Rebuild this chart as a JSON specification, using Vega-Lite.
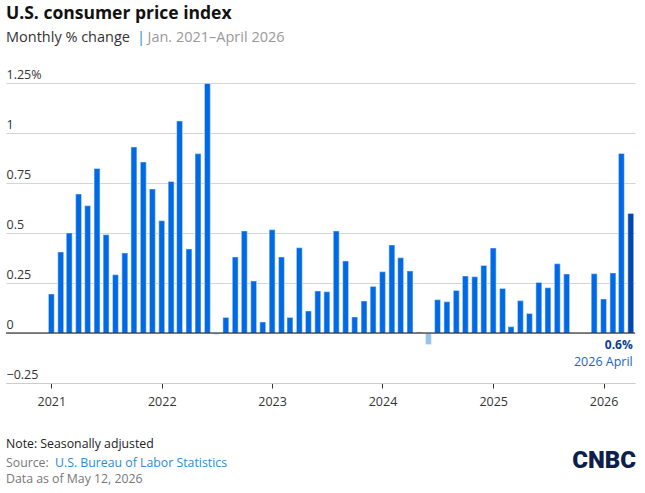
{
  "$schema": "https://vega.github.io/schema/vega-lite/v6.json",
  "width": 629,
  "height": 300,
  "autosize": {"type": "none"},
  "padding": {"left": 6, "top": 83, "right": 10, "bottom": 110},
  "background": "white",
  "config": {"view": {"stroke": null}, "font": "Open Sans", "text": {"font": "Open Sans"}},
  "datasets": {
    "cpi": [
      {"month": "2021-01-01", "value": 0.195},
      {"month": "2021-02-01", "value": 0.405},
      {"month": "2021-03-01", "value": 0.5},
      {"month": "2021-04-01", "value": 0.695},
      {"month": "2021-05-01", "value": 0.637},
      {"month": "2021-06-01", "value": 0.823},
      {"month": "2021-07-01", "value": 0.492},
      {"month": "2021-08-01", "value": 0.292},
      {"month": "2021-09-01", "value": 0.4},
      {"month": "2021-10-01", "value": 0.93},
      {"month": "2021-11-01", "value": 0.855},
      {"month": "2021-12-01", "value": 0.72},
      {"month": "2022-01-01", "value": 0.562},
      {"month": "2022-02-01", "value": 0.758},
      {"month": "2022-03-01", "value": 1.06},
      {"month": "2022-04-01", "value": 0.42},
      {"month": "2022-05-01", "value": 0.897},
      {"month": "2022-06-01", "value": 1.248},
      {"month": "2022-07-01", "value": -0.008},
      {"month": "2022-08-01", "value": 0.078},
      {"month": "2022-09-01", "value": 0.38},
      {"month": "2022-10-01", "value": 0.51},
      {"month": "2022-11-01", "value": 0.26},
      {"month": "2022-12-01", "value": 0.055},
      {"month": "2023-01-01", "value": 0.517},
      {"month": "2023-02-01", "value": 0.38},
      {"month": "2023-03-01", "value": 0.078},
      {"month": "2023-04-01", "value": 0.427},
      {"month": "2023-05-01", "value": 0.11},
      {"month": "2023-06-01", "value": 0.21},
      {"month": "2023-07-01", "value": 0.207},
      {"month": "2023-08-01", "value": 0.51},
      {"month": "2023-09-01", "value": 0.36},
      {"month": "2023-10-01", "value": 0.08},
      {"month": "2023-11-01", "value": 0.16},
      {"month": "2023-12-01", "value": 0.233},
      {"month": "2024-01-01", "value": 0.307},
      {"month": "2024-02-01", "value": 0.44},
      {"month": "2024-03-01", "value": 0.377},
      {"month": "2024-04-01", "value": 0.31},
      {"month": "2024-05-01", "value": 0.006},
      {"month": "2024-06-01", "value": -0.058},
      {"month": "2024-07-01", "value": 0.167},
      {"month": "2024-08-01", "value": 0.157},
      {"month": "2024-09-01", "value": 0.213},
      {"month": "2024-10-01", "value": 0.285},
      {"month": "2024-11-01", "value": 0.282},
      {"month": "2024-12-01", "value": 0.338},
      {"month": "2025-01-01", "value": 0.425},
      {"month": "2025-02-01", "value": 0.223},
      {"month": "2025-03-01", "value": 0.032},
      {"month": "2025-04-01", "value": 0.162},
      {"month": "2025-05-01", "value": 0.098},
      {"month": "2025-06-01", "value": 0.253},
      {"month": "2025-07-01", "value": 0.227},
      {"month": "2025-08-01", "value": 0.347},
      {"month": "2025-09-01", "value": 0.295},
      {"month": "2025-12-01", "value": 0.297},
      {"month": "2026-01-01", "value": 0.17},
      {"month": "2026-02-01", "value": 0.3},
      {"month": "2026-03-01", "value": 0.898},
      {"month": "2026-04-01", "value": 0.598}
    ]
  },
  "layer": [
    {
      "data": {"name": "cpi"},
      "mark": {"type": "bar", "width": 6, "stroke": "white", "strokeWidth": 1.2, "strokeOpacity": 0.45},
      "encoding": {
        "x": {
          "field": "month",
          "type": "temporal",
          "scale": {"type": "utc", "padding": 0, "domain": [{"year": 2020, "month": 8, "date": 4, "utc": true}, {"year": 2026, "month": 4, "date": 15, "utc": true}]},
          "axis": {
            "values": [
              {"year": 2021, "month": 1, "date": 1, "utc": true},
              {"year": 2022, "month": 1, "date": 1, "utc": true},
              {"year": 2023, "month": 1, "date": 1, "utc": true},
              {"year": 2024, "month": 1, "date": 1, "utc": true},
              {"year": 2025, "month": 1, "date": 1, "utc": true},
              {"year": 2026, "month": 1, "date": 1, "utc": true}
            ],
            "format": "%Y",
            "title": null,
            "grid": false,
            "domainColor": "#cccccc",
            "domainWidth": 1,
            "tickColor": "#333333",
            "tickSize": 5,
            "labelFontSize": 12.5,
            "labelColor": "#333333",
            "labelPadding": 7,
            "labelFlush": false
          }
        },
        "y": {
          "field": "value",
          "type": "quantitative",
          "scale": {"domain": [-0.25, 1.25], "nice": false, "zero": false},
          "axis": {
            "values": [-0.25, 0, 0.25, 0.5, 0.75, 1, 1.25],
            "labelExpr": "datum.value == 1.25 ? '1.25%' : format(datum.value, '~g')",
            "title": null,
            "domain": false,
            "ticks": false,
            "tickSize": 0,
            "labelAlign": "left",
            "labelBaseline": "alphabetic",
            "labelPadding": 0,
            "labelOffset": -4.5,
            "labelFontSize": 12.5,
            "labelColor": "#333333",
            "grid": true,
            "gridColor": "#d5d5d5",
            "labelFlush": false
          }
        },
        "color": {
          "condition": [
            {"test": "datum.value <= 0.01", "value": "#93c4ec"},
            {"test": "utcyear(datum.month) == 2026 && utcmonth(datum.month) == 3", "value": "#0047b4"}
          ],
          "value": "#0069e6"
        }
      }
    },
    {
      "data": {"values": [{}]},
      "mark": {"type": "rule", "color": "#111111", "strokeWidth": 1.2},
      "encoding": {"y": {"datum": 0}}
    },
    {
      "data": {"name": "cpi"},
      "transform": [
        {"filter": "utcyear(datum.month) == 2026 && utcmonth(datum.month) == 3"},
        {"calculate": "format(datum.value, '.1f') + '%'", "as": "pct"}
      ],
      "mark": {"type": "text", "align": "right", "baseline": "alphabetic", "dx": 2, "dy": 16, "fontSize": 12, "fontWeight": "bold", "color": "#0b3d91"},
      "encoding": {
        "x": {"field": "month", "type": "temporal"},
        "y": {"datum": 0},
        "text": {"field": "pct"}
      }
    },
    {
      "data": {"name": "cpi"},
      "transform": [
        {"filter": "utcyear(datum.month) == 2026 && utcmonth(datum.month) == 3"},
        {"calculate": "utcFormat(datum.month, '%Y %B')", "as": "lab"}
      ],
      "mark": {"type": "text", "align": "right", "baseline": "alphabetic", "dx": 2, "dy": 32.5, "fontSize": 12.5, "color": "#1f5fbf"},
      "encoding": {
        "x": {"field": "month", "type": "temporal"},
        "y": {"datum": 0},
        "text": {"field": "lab"}
      }
    },
    {
      "data": {"values": [{}]},
      "mark": {"type": "text", "align": "left", "baseline": "alphabetic", "fontSize": 17.5, "fontWeight": "bold", "color": "#111111"},
      "encoding": {"x": {"value": 0}, "y": {"value": -64.5}, "text": {"value": "U.S. consumer price index"}}
    },
    {
      "data": {"values": [{}]},
      "mark": {"type": "text", "align": "left", "baseline": "alphabetic", "fontSize": 14.5, "color": "#333333"},
      "encoding": {"x": {"value": 0}, "y": {"value": -41.5}, "text": {"value": "Monthly % change"}}
    },
    {
      "data": {"values": [{}]},
      "mark": {"type": "text", "align": "left", "baseline": "alphabetic", "fontSize": 14.5, "color": "#2a8ad6"},
      "encoding": {"x": {"value": 131}, "y": {"value": -41.5}, "text": {"value": "|"}}
    },
    {
      "data": {"values": [{}]},
      "mark": {"type": "text", "align": "left", "baseline": "alphabetic", "fontSize": 14.5, "color": "#999999"},
      "encoding": {"x": {"value": 141.5}, "y": {"value": -41.5}, "text": {"value": "Jan. 2021–April 2026"}}
    },
    {
      "data": {"values": [{}]},
      "mark": {"type": "text", "align": "left", "baseline": "alphabetic", "fontSize": 12.3, "color": "#222222"},
      "encoding": {"x": {"value": 0}, "y": {"value": 364.5}, "text": {"value": "Note: Seasonally adjusted"}}
    },
    {
      "data": {"values": [{}]},
      "mark": {"type": "text", "align": "left", "baseline": "alphabetic", "fontSize": 12.3, "color": "#777777"},
      "encoding": {"x": {"value": 0}, "y": {"value": 383.5}, "text": {"value": "Source:"}}
    },
    {
      "data": {"values": [{}]},
      "mark": {"type": "text", "align": "left", "baseline": "alphabetic", "fontSize": 12.3, "color": "#2a8ad6"},
      "encoding": {"x": {"value": 49}, "y": {"value": 383.5}, "text": {"value": "U.S. Bureau of Labor Statistics"}}
    },
    {
      "data": {"values": [{}]},
      "mark": {"type": "text", "align": "left", "baseline": "alphabetic", "fontSize": 12.3, "color": "#777777"},
      "encoding": {"x": {"value": 0}, "y": {"value": 399.5}, "text": {"value": "Data as of May 12, 2026"}}
    },
    {
      "data": {"values": [{}]},
      "mark": {"type": "text", "align": "right", "baseline": "alphabetic", "fontSize": 24, "fontWeight": 900, "font": "Roboto", "color": "#0c1f4c"},
      "encoding": {"x": {"value": 630}, "y": {"value": 384.5}, "text": {"value": "CNBC"}}
    }
  ]
}
